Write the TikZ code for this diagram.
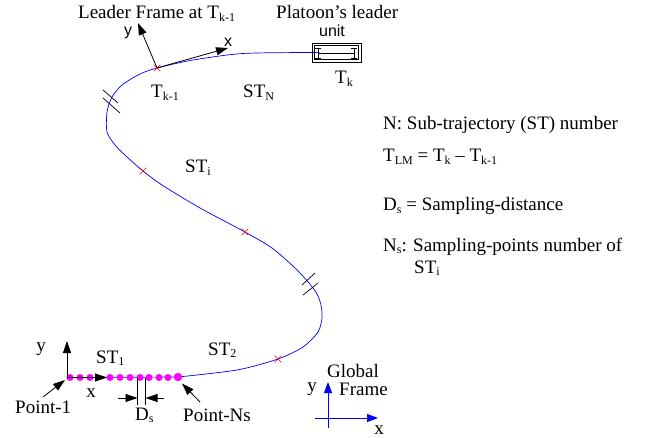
\documentclass[tikz,border=0pt]{standalone}
\usepackage{fontspec}
\setmainfont{Liberation Serif}
\newfontfamily\arialf{Liberation Sans}
\usetikzlibrary{arrows.meta,shapes.misc}
\definecolor{dotmag}{RGB}{255,0,255}
\definecolor{pureblue}{RGB}{0,0,255}
\definecolor{purered}{RGB}{255,0,0}
\newcommand\sbx[1]{\raisebox{-0.3ex}{\fontsize{12}{12}\selectfont #1}}
\begin{document}
\begin{tikzpicture}[x=1pt,y=-1pt,
  txt/.style={font=\fontsize{19}{22}\selectfont, inner sep=0pt, anchor=base west},
  ctxt/.style={font=\fontsize{19}{22}\selectfont, inner sep=0pt},
  sanslbl/.style={font=\arialf\fontsize{16}{18}\selectfont, inner sep=0pt},
  arr/.style={-{Triangle[length=12pt,width=8pt]}, line width=0.8pt},
  barr/.style={pureblue, -{Triangle[length=11pt,width=8pt]}, line width=0.8pt},
  crossm/.style={cross out, draw=purered, line width=0.6pt, minimum size=6pt, inner sep=0pt},
  hashl/.style={line width=0.7pt},
  dotm/.style={fill=dotmag}]
\useasboundingbox (0,0) rectangle (652,438);

% key points
\coordinate (P1) at (67,377.5);
\coordinate (PNs) at (178,377);
\coordinate (Tkm) at (157,68);

% trajectory
\draw[pureblue, line width=0.7pt] plot[smooth, tension=0.45] coordinates {
 (318,53) (312,52.5) (243,53.5) (193,60) (157,68) (140,74) (122,85) (112,97)
 (107,112) (107,132) (115,145) (127,157) (143,171) (162,185) (200,208) (245,232)
 (272,248) (295,268) (309,283) (317,294) (321,305) (322,318) (318,332) (303,347)
 (278,359) (237,370) (178,377)};
\draw[pureblue, line width=0.7pt] (PNs) -- (P1);

% leader unit box
\draw[line width=0.8pt] (312,43) rectangle (361,62);
\draw[line width=0.6pt] (314.5,45.5) rectangle (358.5,59.5);
\draw[line width=0.7pt] (318,53) -- (354,53);
\draw[line width=0.7pt] (318,48) -- (318,58) (315,48) -- (321,48) (315,58) -- (321,58);
\draw[line width=0.7pt] (354,48) -- (354,58) (351,48) -- (357,48) (351,58) -- (357,58);

% hash marks
\draw[hashl] (103,90) -- (118,103) (103,98) -- (120,113);
\draw[hashl] (302,285) -- (315,273) (303,295) -- (318,283);

% red crosses
\node[crossm] (c1) at (Tkm) {};
\node[crossm] (c2) at (143,171) {};
\node[crossm] (c3) at (245,232) {};
\node[crossm] (c4) at (278,359) {};

% magenta sampling points
\foreach \xx in {70,80,90,110,120,130,140,149,159,168}
  \fill[dotm] (\xx,377.5) circle (3.5pt);
\fill[dotm] (PNs) circle (4.2pt);

% leader frame axes
\coordinate (LFy) at (138,23);
\coordinate (LFx) at (228,48);
\draw[arr] (Tkm) -- (LFy);
\draw[arr] (Tkm) -- (LFx);
\node[sanslbl] (ly) at (128,33) {y};
\node[sanslbl] (lx) at (228,42) {x};

% local frame at Point-1
\coordinate (L1y) at (67,341);
\coordinate (L1x) at (107,377.5);
\draw[arr] (P1) -- (L1y);
\draw[arr] (P1) -- (L1x);
\node[ctxt] (by) at (41,349) {y};
\node[ctxt] (bx) at (91,393) {x};

% Point labels and arrows
\node[txt] (pt1) at (15,413) {Point-1};
\coordinate (pt1t) at (43,397);
\draw[arr] (pt1t) -- (65,380);
\node[txt] (ptn) at (183,421) {Point-Ns};
\coordinate (ptnt) at (200,402);
\draw[arr] (ptnt) -- (182,383.5);

% Ds
\coordinate (d1) at (137.5,378);
\coordinate (d2) at (145.5,378);
\draw[line width=0.7pt] (d1) -- (137.5,405) (d2) -- (145.5,405);
\coordinate (da) at (118,398);
\coordinate (db) at (164,398);
\draw[arr] (da) -- (137.5,398);
\draw[arr] (db) -- (145.5,398);
\node[txt] (dsl) at (135,420) {D\sbx{s}};

% labels on trajectory
\node[txt] (lf) at (78,19) {Leader Frame at T\sbx{k-1}};
\node[txt] (pl) at (276,19) {Platoon\char"27 s leader};
\node[sanslbl, anchor=base] (un) at (332,37) {unit};
\node[txt] (tk) at (335,84) {T\sbx{k}};
\node[txt] (tk1) at (151,98) {T\sbx{k-1}};
\node[txt] (stn) at (243,98) {ST\sbx{N}};
\node[txt] (sti) at (185,173) {ST\sbx{i}};
\node[txt] (st2) at (208,355) {ST\sbx{2}};
\node[txt] (st1) at (96,363) {ST\sbx{1}};

% global frame
\coordinate (go) at (328,418);
\draw[barr] (328,428) -- (328,382);
\draw[barr] (315,418) -- (378,418);
\node[txt] (gl) at (327,377) {Global};
\node[txt] (gf) at (339,395) {Frame};
\node[ctxt] (gy) at (312,389) {y};
\node[ctxt] (gx) at (379,430) {x};

% legend
\node[txt] (n1) at (383,130) {N: Sub-trajectory (ST) number};
\node[txt] (n2) at (383,162) {T\sbx{LM} = T\sbx{k} -- T\sbx{k-1}};
\node[txt] (n3) at (383,211) {D\sbx{s} = Sampling-distance};
\node[txt] (n4) at (383,251) {N\sbx{s}: Sampling-points number of};
\node[txt] (n5) at (414,273) {ST\sbx{i}};
\end{tikzpicture}
\end{document}
